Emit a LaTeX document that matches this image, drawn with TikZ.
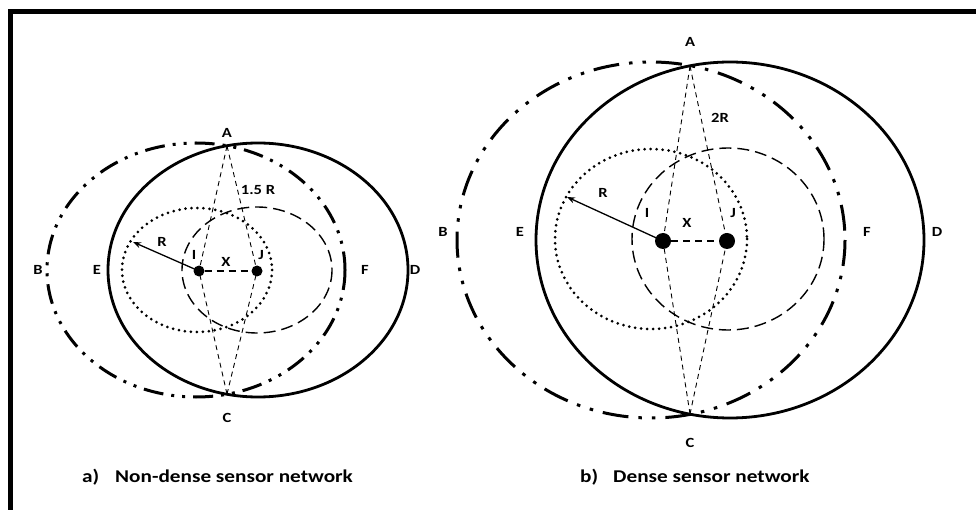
\documentclass[tikz,border=0pt]{standalone}
\usepackage{fontspec}
\setmainfont{Carlito}[FakeStretch=1.18]
\usetikzlibrary{arrows.meta}
\tikzset{
  frameline/.style={line width=5pt},
  solidell/.style={line width=2.8pt},
  ddotell/.style={line width=3pt, dash pattern=on 20pt off 8pt on 3pt off 8pt on 3pt off 8pt},
  ddotbig/.style={line width=3pt, dash pattern=on 26pt off 10pt on 3.5pt off 10pt on 3.5pt off 10pt},
  dotell/.style={line width=3pt, line cap=round, dash pattern=on 0pt off 6pt},
  dashell/.style={line width=1.4pt, dash pattern=on 12pt off 6pt},
  thindash/.style={line width=0.9pt, dash pattern=on 5pt off 4pt},
  ijdash/.style={line width=1.8pt, dash pattern=on 7pt off 5pt},
  sensor/.style={circle, fill=black, inner sep=0pt},
  lbl/.style={font=\bfseries\fontsize{14}{15}\selectfont, inner sep=0pt},
  captxt/.style={font=\bfseries\fontsize{18}{20}\selectfont, inner sep=0pt, anchor=base west},
  rarrow/.style={line width=1.3pt, -{Stealth[length=8pt,width=6pt]}}
}
\begin{document}
\begin{tikzpicture}[x=1pt,y=-1pt]
\useasboundingbox (0,0) rectangle (976,510);
% frame
\coordinate (fb) at (10.5,510);
\coordinate (fc) at (10.5,11.5);
\coordinate (fr) at (976,11.5);
\draw[frameline] (fb) -- (fc) -- (fr);

% ---------- (a) ----------
\coordinate (aS) at (258,270);
\coordinate (aB) at (196,270);
\coordinate (aDot) at (197,270);
\coordinate (aDash) at (257,270);
\draw[solidell] (aS) ellipse [x radius=150, y radius=127];
\draw[ddotell] (aB) ellipse [x radius=149, y radius=127];
\draw[dotell] (aDot) ellipse [x radius=75, y radius=62];
\draw[dashell] (aDash) ellipse [x radius=75, y radius=63];
\node[sensor, minimum size=11pt] (aI) at (199,271) {};
\node[sensor, minimum size=11pt] (aJ) at (257,271) {};
\coordinate (aA) at (227,146);
\coordinate (aC) at (227,394);
\coordinate (aRt) at (133,242);
\draw[thindash] (aA) -- (aI.center);
\draw[thindash] (aA) -- (aJ.center);
\draw[thindash] (aC) -- (aI.center);
\draw[thindash] (aC) -- (aJ.center);
\draw[ijdash] (aI) -- (aJ);
\draw[rarrow] (aI.center) -- (aRt);
\node[lbl] (aAl) at (227,133) {A};
\node[lbl] (aCl) at (227,418) {C};
\node[lbl] (aBl) at (38,270) {B};
\node[lbl] (aEl) at (97,270) {E};
\node[lbl] (aFl) at (365,270) {F};
\node[lbl] (aDl) at (415,270) {D};
\node[lbl] (aIl) at (194,255) {I};
\node[lbl] (aXl) at (226,262) {X};
\node[lbl] (aJl) at (261,255) {J};
\node[lbl] (aRl) at (162,242) {R};
\node[lbl] (a15) at (258,190) {1.5 R};

% ---------- (b) ----------
\coordinate (bS) at (730,240);
\coordinate (bB) at (651,240);
\coordinate (bDot) at (651,239);
\coordinate (bDash) at (728,239);
\draw[solidell] (bS) ellipse [x radius=194, y radius=178];
\draw[ddotbig] (bB) ellipse [x radius=194, y radius=178];
\draw[dotell] (bDot) ellipse [x radius=96, y radius=90];
\draw[dashell] (bDash) ellipse [x radius=96, y radius=91];
\node[sensor, minimum size=16pt] (bI) at (663,241) {};
\node[sensor, minimum size=16pt] (bJ) at (727,241) {};
\coordinate (bA) at (690,66);
\coordinate (bC) at (690,414);
\coordinate (bRt) at (567,197);
\draw[thindash] (bA) -- (bI.center);
\draw[thindash] (bA) -- (bJ.center);
\draw[thindash] (bC) -- (bI.center);
\draw[thindash] (bC) -- (bJ.center);
\draw[ijdash] (bI) -- (bJ);
\draw[rarrow] (bI.center) -- (bRt);
\node[lbl] (bAl) at (690,42) {A};
\node[lbl] (bCl) at (690,443) {C};
\node[lbl] (bBl) at (443,232) {B};
\node[lbl] (bEl) at (520,232) {E};
\node[lbl] (bFl) at (867,232) {F};
\node[lbl] (bDl) at (937,232) {D};
\node[lbl] (bIl) at (647,213) {I};
\node[lbl] (bXl) at (687,223) {X};
\node[lbl] (bJl) at (733,213) {J};
\node[lbl] (bRl) at (603,193) {R};
\node[lbl] (b2R) at (720,118) {2R};

% captions
\node[captxt] (capa) at (82,482) {a)};
\node[captxt] (capat) at (115,482) {Non-dense sensor network};
\node[captxt] (capb) at (580,482) {b)};
\node[captxt] (capbt) at (613,482) {Dense sensor network};
\end{tikzpicture}
\end{document}
